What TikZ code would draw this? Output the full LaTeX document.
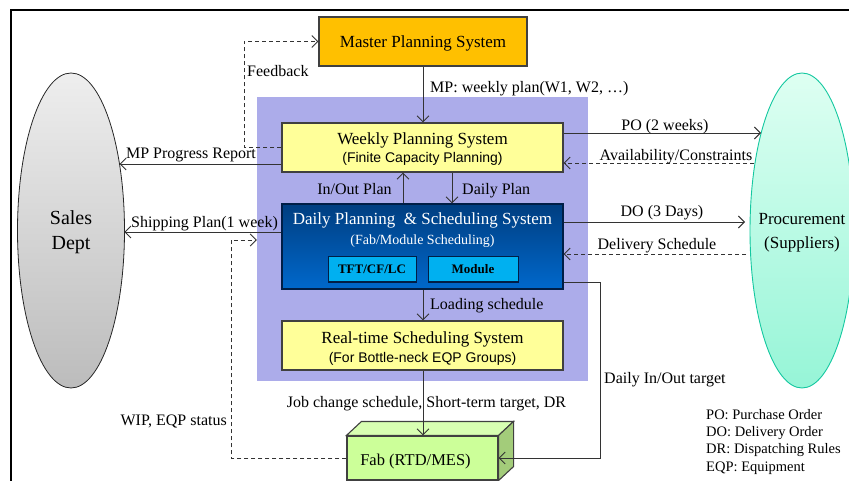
\documentclass[tikz,border=0pt]{standalone}
\usepackage{fontspec}
\setmainfont{Liberation Serif}
\newfontfamily\arialf{Liberation Sans}
\usetikzlibrary{arrows.meta,shapes.geometric,calc}
\definecolor{panelc}{RGB}{172,172,234}
\definecolor{masterc}{RGB}{255,192,0}
\definecolor{yellowc}{RGB}{255,255,153}
\definecolor{navytop}{RGB}{0,62,128}
\definecolor{navybot}{RGB}{0,104,204}
\definecolor{navyedge}{RGB}{0,30,70}
\definecolor{cyanc}{RGB}{0,176,240}
\definecolor{fabfront}{RGB}{204,255,153}
\definecolor{fabtop}{RGB}{216,255,178}
\definecolor{fabside}{RGB}{163,204,122}
\definecolor{salestop}{RGB}{238,238,238}
\definecolor{salesbot}{RGB}{188,188,188}
\definecolor{proctop}{RGB}{222,255,242}
\definecolor{procbot}{RGB}{150,245,215}
\definecolor{procedge}{RGB}{20,200,160}
\begin{document}
\begin{tikzpicture}[x=1pt,y=-1pt,
  conn/.style={draw=black!80, line width=0.9pt, -{Straight Barb[length=6pt,width=12pt]}},
  dconn/.style={conn, dash pattern=on 4pt off 3pt},
  lbl/.style={inner sep=0pt, anchor=base, font=\fontsize{16}{18}\selectfont},
  boxst/.style={draw=black!75, line width=1.1pt, inner sep=0pt},
  ttl/.style={inner sep=0pt, anchor=base, font=\fontsize{17}{19}\selectfont},
  subt/.style={inner sep=0pt, anchor=base, font=\arialf\fontsize{14}{16}\selectfont},
  inbox/.style={draw=navyedge, line width=1pt, fill=cyanc, inner sep=0pt,
    minimum height=25pt, font=\bfseries\fontsize{13}{15}\selectfont},
]
\useasboundingbox (0,0) rectangle (849,481);
% frame
\draw[line width=1.1pt] (11,481) -- (11,10) -- (849,10);
% panel
\node[fill=panelc, inner sep=0pt, minimum width=331pt, minimum height=284pt] (panel) at (422.5,239) {};
% ellipses
\node[ellipse, draw=black!85, line width=0.8pt, top color=salestop, bottom color=salesbot,
  inner sep=0pt, minimum width=107pt, minimum height=315pt] (sales) at (71,230.5) {};
\node[ellipse, draw=procedge, line width=0.9pt, top color=proctop, bottom color=procbot,
  inner sep=0pt, minimum width=104pt, minimum height=315pt] (proc) at (802,230.5) {};
\node[inner sep=0pt, anchor=base, font=\fontsize{20}{22}\selectfont] (salesA) at (71,225) {Sales};
\node[inner sep=0pt, anchor=base, font=\fontsize{20}{22}\selectfont] (salesB) at (71,250) {Dept};
\node[ttl] (procA) at (802,225) {Procurement};
\node[ttl] (procB) at (802,249) {(Suppliers)};
% boxes
\node[boxst, fill=masterc, minimum width=208pt, minimum height=49pt] (master) at (423,41.5) {};
\node[ttl] (masterT) at (423,47.5) {Master Planning System};
\node[boxst, fill=yellowc, minimum width=281pt, minimum height=49pt] (weekly) at (422.5,147.5) {};
\node[ttl] (weeklyT) at (422.5,145) {Weekly Planning System};
\node[subt] (weeklyS) at (422.5,163) {(Finite Capacity Planning)};
\node[draw=navyedge, line width=1.1pt, top color=navytop, bottom color=navybot, inner sep=0pt,
  minimum width=281pt, minimum height=85pt] (daily) at (422.5,246.5) {};
\node[ttl, text=white] (dailyT) at (422.5,225) {Daily Planning\ \ \& Scheduling System};
\node[inner sep=0pt, anchor=base, text=white, font=\fontsize{14}{16}\selectfont] (dailyS) at (422.5,244) {(Fab/Module Scheduling)};
\node[inbox, minimum width=88pt] (tft) at (372,269.5) {TFT/CF/LC};
\node[inbox, minimum width=90pt] (module) at (473,269.5) {Module};
\node[boxst, fill=yellowc, minimum width=281pt, minimum height=49pt] (rts) at (422.5,345.5) {};
\node[ttl] (rtsT) at (422.5,343) {Real-time Scheduling System};
\node[subt] (rtsS) at (422.5,362) {(For Bottle-neck EQP Groups)};
% fab cube
\node[boxst, fill=fabfront, minimum width=151pt, minimum height=44pt] (fab) at (422.5,458) {};
\draw[draw=black!75, line width=1.1pt, fill=fabtop] (fab.north west) -- ++(15,-14) -- ($(fab.north east)+(15,-14)$) -- (fab.north east) -- cycle;
\draw[draw=black!75, line width=1.1pt, fill=fabside] (fab.north east) -- ++(15,-14) -- ($(fab.south east)+(15,-14)$) -- (fab.south east) -- cycle;
\node[inner sep=0pt, anchor=base, font=\fontsize{16.5}{18}\selectfont] (fabT) at (415.5,465) {Fab (RTD/MES)};
% connectors
\draw[conn] (master.south) -- (master.south |- weekly.north);
\draw[dconn] (weekly.west) -- ++(-37,0) |- (master.west);
\draw[conn] (weekly.west |- 0,164) -- ($(sales.center)+(48.5,-66.5)$);
\draw[conn] (weekly.east |- 0,133) -- ($(proc.center)+(-41,-97.5)$);
\draw[dconn] ($(proc.center)+(-48,-67.5)$) -- (weekly.east |- 0,163);
\draw[conn] (daily.north -| 403,0) -- (weekly.south -| 403,0);
\draw[conn] (weekly.south -| 452,0) -- (daily.north -| 452,0);
\draw[conn] (daily.west |- 0,232) -- ($(sales.center)+(53.3,1.5)$);
\draw[dconn] (fab.west) -| (231,240) -- (panel.west |- 0,240);
\draw[conn] (daily.east |- 0,222) -- ($(proc.center)+(-57,-8.5)$);
\draw[dconn] ($(proc.center)+(-56,23.5)$) -- (daily.east |- 0,254);
\draw[conn] (daily.south -| 423,0) -- (rts.north -| 423,0);
\draw[conn] (rts.south -| 423,0) -- (fab.north -| 423,0);
\draw[conn] (daily.east |- 0,282) -- ++(37,0) |- (fab.east);
% labels
\node[lbl, anchor=base west] (lmp) at (430,93) {MP: weekly plan(W1, W2, \dots)};
\node[lbl, anchor=base west] (lfb) at (247,77) {Feedback};
\node[lbl] (lprog) at (191,159) {MP Progress Report};
\node[lbl] (lpo) at (665,131) {PO (2 weeks)};
\node[lbl] (lav) at (676,161) {Availability/Constraints};
\node[lbl] (lio) at (354.5,195) {In/Out Plan};
\node[lbl, anchor=base west] (ldp) at (462,195) {Daily Plan};
\node[lbl] (lship) at (204.5,228) {Shipping Plan(1 week)};
\node[lbl] (ldo) at (662,217) {DO (3 Days)};
\node[lbl] (lds) at (657,250) {Delivery Schedule};
\node[lbl, anchor=base west] (lload) at (430,309) {Loading schedule};
\node[lbl, anchor=base west] (ldio) at (604,383) {Daily In/Out target};
\node[lbl] (ljob) at (426.5,407) {Job change schedule, Short-term target, DR};
\node[lbl, anchor=base east] (lwip) at (227,425) {WIP, EQP status};
\node[inner sep=0pt, anchor=north west, align=left, font=\fontsize{14.5}{17.3}\selectfont] (legend) at (706,409)
  {PO: Purchase Order\\DO: Delivery Order\\DR: Dispatching Rules\\EQP: Equipment};
\end{tikzpicture}
\end{document}
